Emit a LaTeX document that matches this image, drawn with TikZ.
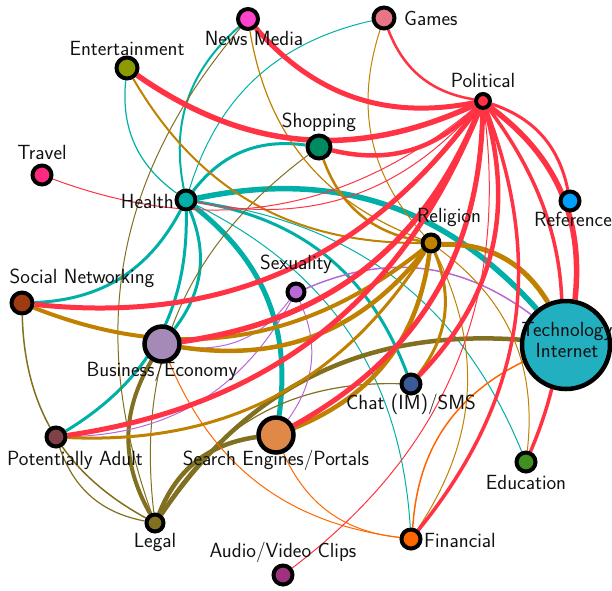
\documentclass[tikz,border=0pt]{standalone}
\usepackage{tikz}
\usetikzlibrary{backgrounds}
\definecolor{cNews}{HTML}{FF44CC}
\definecolor{cGames}{HTML}{E87585}
\definecolor{cEnt}{HTML}{8C9A00}
\definecolor{cPol}{HTML}{FF3344}
\definecolor{cShop}{HTML}{008A60}
\definecolor{cTravel}{HTML}{FF2A80}
\definecolor{cHealth}{HTML}{00B0A8}
\definecolor{cRef}{HTML}{00A0FF}
\definecolor{cRel}{HTML}{C08000}
\definecolor{cSex}{HTML}{B868D8}
\definecolor{cSN}{HTML}{A03A10}
\definecolor{cTech}{HTML}{22AFC0}
\definecolor{cBus}{HTML}{A58AB8}
\definecolor{cChat}{HTML}{3A5A9A}
\definecolor{cPA}{HTML}{804048}
\definecolor{cSearch}{HTML}{E08848}
\definecolor{cEdu}{HTML}{409020}
\definecolor{cLegal}{HTML}{807020}
\definecolor{cFin}{HTML}{FF6600}
\definecolor{cAudio}{HTML}{A03080}
\definecolor{cText}{HTML}{111111}
\tikzset{
  vnode/.style={circle, draw=black, line width=4pt, inner sep=0pt},
  lbl/.style={inner sep=0pt, text=cText, font=\fontsize{20.5}{24}\selectfont\sffamily},
  arc/.style={bend left=30},
  eR/.style={arc, draw=cPol},
  eT/.style={arc, draw=cHealth},
  eG/.style={arc, draw=cRel},
  eO/.style={arc, draw=cLegal},
  eP/.style={arc, draw=cSex},
  eF/.style={arc, draw=cFin}
}
\begin{document}
\begin{tikzpicture}[x=1pt,y=1pt]
\useasboundingbox (0,0) rectangle (612,-590);
% nodes
\node[vnode, fill=cNews, minimum size=20pt] (news) at (248,-19) {};
\node[vnode, fill=cGames, minimum size=21pt] (games) at (384,-18) {};
\node[vnode, fill=cEnt, minimum size=21pt] (ent) at (127,-68) {};
\node[vnode, fill=cPol, minimum size=14pt] (pol) at (483,-101) {};
\node[vnode, fill=cShop, minimum size=23pt] (shop) at (319,-147) {};
\node[vnode, fill=cTravel, minimum size=19pt] (travel) at (42,-175) {};
\node[vnode, fill=cHealth, minimum size=19pt] (health) at (186,-200) {};
\node[vnode, fill=cRef, minimum size=19pt] (ref) at (570,-201) {};
\node[vnode, fill=cRel, minimum size=17pt] (rel) at (431,-243) {};
\node[vnode, fill=cSex, minimum size=17pt] (sex) at (296,-292) {};
\node[vnode, fill=cSN, minimum size=21pt] (sn) at (22,-303) {};
\node[vnode, fill=cTech, minimum size=88pt, line width=4.5pt] (tech) at (566,-345) {};
\node[vnode, fill=cBus, minimum size=35pt, line width=4.5pt] (bus) at (162,-344) {};
\node[vnode, fill=cChat, minimum size=19pt] (chat) at (411,-384) {};
\node[vnode, fill=cPA, minimum size=19pt] (pa) at (56,-437) {};
\node[vnode, fill=cSearch, minimum size=35pt, line width=4.5pt] (search) at (276,-435) {};
\node[vnode, fill=cEdu, minimum size=19pt] (edu) at (526,-462) {};
\node[vnode, fill=cLegal, minimum size=17pt] (legal) at (155,-523) {};
\node[vnode, fill=cFin, minimum size=19pt] (fin) at (411,-539) {};
\node[vnode, fill=cAudio, minimum size=19pt] (audio) at (283,-575) {};
% edges (behind nodes)
\begin{scope}[on background layer]
% Health (teal)
\draw[eT, line width=1.2pt] (health) to (ent);
\draw[eT, line width=2pt] (health) to (news);
\draw[eT, line width=1pt] (health) to (games);
\draw[eT, line width=3pt] (health) to (shop);
\draw[eT, line width=5.5pt] (health) to (tech);
\draw[eT, line width=3pt] (health) to (sn);
\draw[eT, line width=3pt] (health) to (bus);
\draw[eT, line width=3pt] (health) to (pa);
\draw[eT, line width=5pt] (health) to (search);
\draw[eT, line width=3pt] (health) to (chat);
\draw[eT, line width=1pt] (health) to (fin);
\draw[eT, line width=1pt] (health) to (edu);
% Legal (olive)
\draw[eO, line width=4.5pt] (legal) to (tech);
\draw[eO, line width=4.5pt] (legal) to (search);
\draw[eO, line width=4pt] (legal) to (bus);
\draw[eO, line width=1.2pt] (legal) to (pa);
\draw[eO, line width=1.5pt] (legal) to (sn);
\draw[eO, line width=1pt] (legal) to (news);
\draw[eO, line width=1pt] (legal) to (shop);
\draw[eO, line width=1.2pt] (legal) to (chat);
% Sexuality (purple)
\draw[eP, line width=1.5pt] (sex) to (tech);
\draw[eP, line width=1pt] (sex) to (bus);
\draw[eP, line width=1pt] (sex) to (pa);
\draw[eP, line width=1pt] (sex) to (search);
% Financial (orange)
\draw[eF, line width=1.5pt] (fin) to (tech);
\draw[eF, line width=1pt] (fin) to (search);
\draw[eF, line width=1pt] (fin) to (bus);
% Religion (goldenrod)
\draw[eG, line width=2pt] (rel) to (ent);
\draw[eG, line width=1.2pt] (rel) to (news);
\draw[eG, line width=1pt] (rel) to (games);
\draw[eG, line width=2.5pt] (rel) to (shop);
\draw[eG, line width=4pt] (rel) to (sn);
\draw[eG, line width=4.5pt] (rel) to (bus);
\draw[eG, line width=3pt] (rel) to (pa);
\draw[eG, line width=4.5pt] (rel) to (search);
\draw[eG, line width=3pt] (rel) to (chat);
\draw[eG, line width=5pt] (rel) to (tech);
\draw[eG, line width=1pt] (rel) to (fin);
\draw[eG, line width=1pt] (rel) to (edu);
% Political (red)
\draw[eR, line width=2.5pt] (pol) to (games);
\draw[eR, line width=5pt] (pol) to (news);
\draw[eR, line width=5.5pt] (pol) to (ent);
\draw[eR, line width=4.5pt] (pol) to (shop);
\draw[eR, line width=1pt] (pol) to (travel);
\draw[eR, line width=1pt] (pol) to (health);
\draw[eR, line width=5pt] (pol) to (sn);
\draw[eR, line width=5.5pt] (pol) to (bus);
\draw[eR, line width=5pt] (pol) to (pa);
\draw[eR, line width=5pt] (pol) to (search);
\draw[eR, line width=4.5pt] (pol) to (chat);
\draw[eR, line width=3.5pt] (pol) to (fin);
\draw[eR, line width=3.5pt] (pol) to (edu);
\draw[eR, line width=5.5pt] (pol) to (tech);
\draw[eR, line width=3pt] (pol) to (ref);
\draw[eR, line width=1pt] (pol) to (audio);
\end{scope}
% labels
\node[lbl] (newsL) at (254,-38) {News Media};
\node[lbl, anchor=west] (gamesL) at (404,-18) {Games};
\node[lbl] (entL) at (127,-48) {Entertainment};
\node[lbl] (polL) at (483,-80) {Political};
\node[lbl] (shopL) at (319,-122) {Shopping};
\node[lbl] (travelL) at (42,-152) {Travel};
\node[lbl, anchor=east] (healthL) at (174,-201) {Health};
\node[lbl] (refL) at (573,-219) {Reference};
\node[lbl] (relL) at (449,-217) {Religion};
\node[lbl] (sexL) at (296,-264) {Sexuality};
\node[lbl] (snL) at (82,-278) {Social Networking};
\node[lbl, align=center] (techL) at (567,-340) {Technology\\[-3pt]Internet};
\node[lbl] (busL) at (162,-371) {Business/Economy};
\node[lbl] (chatL) at (411,-404) {Chat (IM)/SMS};
\node[lbl] (paL) at (75,-460) {Potentially Adult};
\node[lbl] (searchL) at (276,-460) {Search Engines/Portals};
\node[lbl] (eduL) at (526,-482) {Education};
\node[lbl] (legalL) at (155,-542) {Legal};
\node[lbl, anchor=west] (finL) at (424,-540) {Financial};
\node[lbl] (audioL) at (283,-552) {Audio/Video Clips};
\end{tikzpicture}
\end{document}
